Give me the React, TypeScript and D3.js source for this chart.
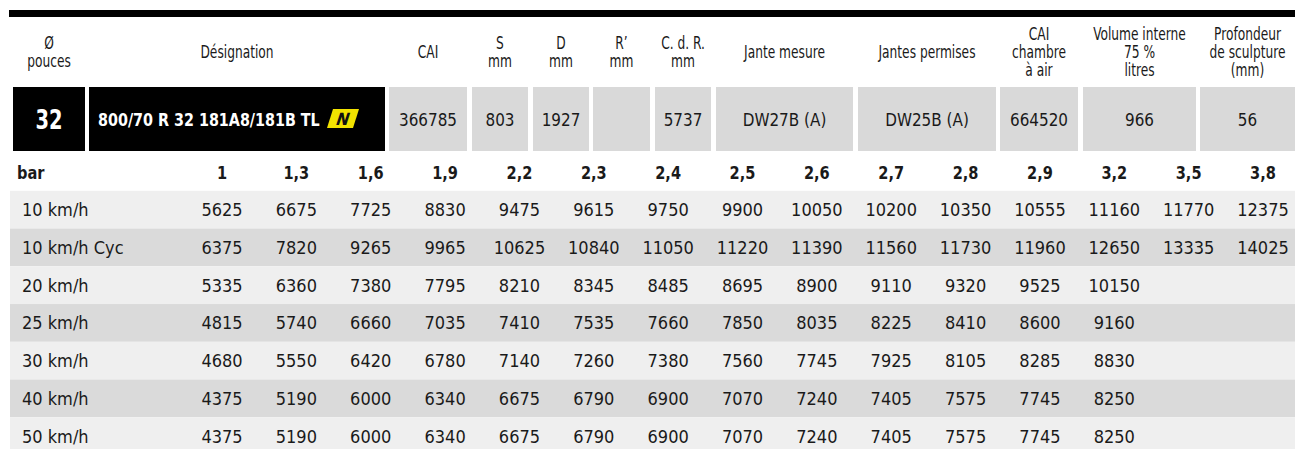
import React from 'react';
import * as d3 from 'd3';

// tyre spec sheet: header labels, one spec row, then load table (kg) by speed / pressure
const headerLabels: string[][] = [
  ['Ø', 'pouces'],
  ['Désignation'],
  ['CAI'],
  ['S', 'mm'],
  ['D', 'mm'],
  ['R’', 'mm'],
  ['C. d. R.', 'mm'],
  ['Jante mesure'],
  ['Jantes permises'],
  ['CAI', 'chambre', 'à air'],
  ['Volume interne', '75 %', 'litres'],
  ['Profondeur', 'de sculpture', '(mm)'],
];
const rimDiameter = '32';
const designation = '800/70 R 32 181A8/181B TL';
const specValues = ['366785', '803', '1927', '', '5737', 'DW27B (A)', 'DW25B (A)', '664520', '966', '56'];

const pressures = ['1', '1,3', '1,6', '1,9', '2,2', '2,3', '2,4', '2,5', '2,6', '2,7', '2,8', '2,9', '3,2', '3,5', '3,8'];
const speeds = ['10 km/h', '10 km/h Cyc', '20 km/h', '25 km/h', '30 km/h', '40 km/h', '50 km/h'];
const load10 = [5625, 6675, 7725, 8830, 9475, 9615, 9750, 9900, 10050, 10200, 10350, 10555, 11160, 11770, 12375];
const load10Cyc = [6375, 7820, 9265, 9965, 10625, 10840, 11050, 11220, 11390, 11560, 11730, 11960, 12650, 13335, 14025];
const load20 = [5335, 6360, 7380, 7795, 8210, 8345, 8485, 8695, 8900, 9110, 9320, 9525, 10150];
const load25 = [4815, 5740, 6660, 7035, 7410, 7535, 7660, 7850, 8035, 8225, 8410, 8600, 9160];
const load30 = [4680, 5550, 6420, 6780, 7140, 7260, 7380, 7560, 7745, 7925, 8105, 8285, 8830];
const load40 = [4375, 5190, 6000, 6340, 6675, 6790, 6900, 7070, 7240, 7405, 7575, 7745, 8250];
const load50 = [4375, 5190, 6000, 6340, 6675, 6790, 6900, 7070, 7240, 7405, 7575, 7745, 8250];
const loads = [load10, load10Cyc, load20, load25, load30, load40, load50];

const W = 1295;
const H = 449;
const FONT = '"DejaVu Sans Condensed", "Liberation Sans Narrow", sans-serif';
const INK = '#1a1a1a';

// column edges of the spec row
const colEdges: [number, number][] = [
  [13, 85], [89, 385], [389, 467], [472, 528], [533, 589], [593, 650],
  [655, 711], [716, 853], [858, 996], [1000, 1078], [1083, 1196], [1200, 1295],
];

// text squeezed horizontally to get the condensed look of the original
const T: React.FC<{
  x: number; y: number; size: number; sx?: number; bold?: boolean;
  anchor?: 'start' | 'middle' | 'end'; fill?: string; children: React.ReactNode;
}> = ({ x, y, size, sx = 1, bold, anchor = 'start', fill = INK, children }) => (
  <text
    transform={`translate(${x},${y}) scale(${sx},1)`}
    fontSize={size}
    fontWeight={bold ? 'bold' : 'normal'}
    textAnchor={anchor}
    fill={fill}
  >
    {children}
  </text>
);

export default function App() {
  const x = d3.scalePoint<string>().domain(pressures).range([222, 1263]);
  const y = d3.scaleBand<string>().domain(speeds).range([190.8, 190.8 + 7 * 37.75]);

  const specTop = 87;
  const specH = 64;

  return (
    <div style={{ position: 'absolute', left: 0, top: 0 }}>
      <svg width={W} height={H} style={{ display: 'block', background: '#fff' }} fontFamily={FONT}>
        <rect x={9} y={10} width={W - 9} height={7} fill="#000" />

        {/* header */}
        {headerLabels.map((lines, i) => {
          const cx = (colEdges[i][0] + colEdges[i][1]) / 2;
          const base = 58 - (lines.length - 1) * 9;
          return (
            <g key={i}>
              {lines.map((l, j) => (
                <T key={j} x={cx} y={base + j * 18} size={17} sx={0.8} anchor="middle">{l}</T>
              ))}
            </g>
          );
        })}

        {/* spec row */}
        <rect x={colEdges[0][0]} y={specTop} width={colEdges[0][1] - colEdges[0][0]} height={specH} fill="#000" />
        <rect x={colEdges[1][0]} y={specTop} width={colEdges[1][1] - colEdges[1][0]} height={specH} fill="#000" />
        <T x={49} y={129} size={27} sx={0.8} bold anchor="middle" fill="#fff">{rimDiameter}</T>
        <T x={98} y={126} size={17.5} sx={0.91} bold fill="#fff">{designation}</T>
        <g transform="translate(327,109)">
          <polygon points="6,0 32,0 26,19 0,19" fill="#f2e200" />
          <text x={16} y={16} textAnchor="middle" fontSize={17} fontWeight="bold" fill="#111" transform="skewX(-18)" transform-origin="16 10">N</text>
        </g>
        {specValues.map((v, i) => {
          const [a, b] = colEdges[i + 2];
          return (
            <g key={i}>
              <rect x={a} y={specTop} width={b - a} height={specH} fill="#d9d9d9" />
              <T x={(a + b) / 2} y={126} size={18} sx={0.94} anchor="middle">{v}</T>
            </g>
          );
        })}

        {/* pressure header */}
        <T x={17} y={179} size={18} sx={0.9} bold>bar</T>
        {pressures.map(p => (
          <T key={p} x={x(p)!} y={179} size={18} sx={0.9} bold anchor="middle">{p}</T>
        ))}

        {/* load rows */}
        {speeds.map((s, r) => {
          const cy = y(s)! + y.bandwidth() / 2 + 6.5;
          return (
            <g key={s}>
              <rect x={10} y={y(s)} width={W - 10} height={y.bandwidth()} fill={r % 2 === 0 ? '#efefef' : '#dadada'} />
              <T x={22} y={cy} size={18}>{s}</T>
              {loads[r].map((v, c) => (
                <T key={c} x={x(pressures[c])!} y={cy} size={18} anchor="middle">{v}</T>
              ))}
            </g>
          );
        })}
      </svg>
    </div>
  );
}
